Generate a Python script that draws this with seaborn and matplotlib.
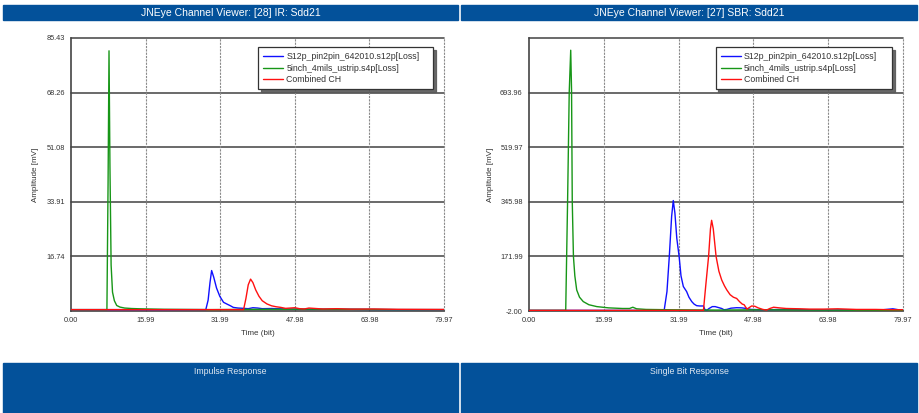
"""
Two-panel JNEye channel viewer: impulse response (IR) and single bit
response (SBR) for the two channel pieces and the combined channel.
Writes out.png (920x413).
"""

import matplotlib

matplotlib.use("Agg")
import matplotlib.pyplot as plt
import seaborn as sns
from matplotlib.patches import Rectangle

# -----------------------------------------------------------------------------
# Data
# -----------------------------------------------------------------------------
SERIES_NAMES = [
    "S12p_pin2pin_642010.s12p[Loss]",
    "5inch_4mils_ustrip.s4p[Loss]",
    "Combined CH",
]
PANEL_TITLES = ["JNEye Channel Viewer: [28] IR: Sdd21", "JNEye Channel Viewer: [27] SBR: Sdd21"]
PANEL_FOOTERS = ["Impulse Response", "Single Bit Response"]

X_TICKS = [0.00, 15.99, 31.99, 47.98, 63.98, 79.97]
X_TICK_LABELS = ["0.00", "15.99", "31.99", "47.98", "63.98", "79.97"]

IR_Y_TICKS = [-0.43, 16.74, 33.91, 51.08, 68.26, 85.43]
IR_Y_TICK_LABELS = ["", "16.74", "33.91", "51.08", "68.26", "85.43"]
SBR_Y_TICKS = [-2.00, 171.99, 345.98, 519.97, 693.96, 867.95]
SBR_Y_TICK_LABELS = ["-2.00", "171.99", "345.98", "519.97", "693.96", ""]

# impulse response, mV
ir_blue_t = [0, 28.9, 29.4, 29.8, 30.15, 30.6, 31.2, 31.9, 32.7, 33.5, 34.2, 34.8,
             35.8, 37.0, 38.0, 39.0, 40.0, 41.0, 43.0, 46.0, 50.0, 60.0, 70.0, 79.97]
ir_blue_v = [0, 0, 3.0, 8.5, 12.3, 10.2, 6.8, 4.2, 2.3, 1.7, 1.2, 0.7,
             0.5, 0.4, 0.3, 0.6, 0.5, 0.3, 0.35, 0.2, 0.1, 0.1, 0.0, 0.0]

ir_green_t = [0, 7.7, 7.95, 8.15, 8.35, 8.6, 8.9, 9.3, 9.8, 10.5, 11.5, 13.0,
              15.0, 20.0, 30.0, 40.0, 50.0, 60.0, 70.0, 79.97]
ir_green_v = [0, 0, 40.0, 81.4, 45.0, 14.0, 5.5, 2.8, 1.3, 0.8, 0.5, 0.35,
              0.25, 0.1, 0.0, 0.1, 0.15, 0.1, 0.0, 0.0]

ir_red_t = [0, 37.0, 37.5, 38.0, 38.5, 39.0, 39.6, 40.3, 41.0, 42.0, 43.0, 44.0,
            45.0, 46.0, 47.0, 48.0, 49.0, 50.0, 51.0, 52.0, 54.0, 57.0, 60.0,
            65.0, 70.0, 79.97]
ir_red_v = [0, 0, 3.5, 7.8, 9.6, 8.5, 6.2, 4.2, 2.8, 1.8, 1.2, 0.9,
            0.7, 0.4, 0.5, 0.6, 0.3, 0.2, 0.5, 0.4, 0.2, 0.3, 0.15,
            0.2, 0.1, 0.05]

# single bit response, mV
sbr_blue_t = [0, 28.9, 29.5, 30.0, 30.5, 30.85, 31.2, 31.6, 32.1, 32.5, 33.0, 33.7,
              34.2, 34.8, 35.3, 35.85, 36.5, 37.3, 37.6, 38.0, 38.5, 39.2, 39.8,
              40.5, 41.2, 41.7, 42.3, 43.2, 44.4, 45.5, 46.5, 47.5, 50.0, 55.0,
              60.0, 65.0, 70.0, 75.0, 77.8, 79.0, 79.97]
sbr_blue_v = [0, 0, 60, 172, 300, 350, 310, 230, 172, 110, 76, 60,
              42, 28, 20, 15, 14, 14, 3, 0, 6, 12, 12,
              9, 6, 2, 3, 7, 8.5, 8, 6, 3, 2, 3,
              2, 1, 2, 1, 5, 2, 1]

sbr_green_t = [0, 7.85, 8.25, 8.6, 8.92, 9.1, 9.25, 9.5, 9.8, 10.2, 10.8, 11.6,
               12.8, 14.5, 17.0, 20.0, 21.5, 22.2, 23.0, 25.0, 30.0, 40.0, 50.0,
               60.0, 70.0, 79.97]
sbr_green_v = [0, 0, 347, 694, 829, 700, 347, 172, 110, 65, 42, 28,
               18, 12, 8, 6, 6, 10, 5, 3, 2, 1, 2,
               1, 0.5, 0]

sbr_red_t = [0, 37.3, 37.8, 38.4, 38.8, 39.05, 39.4, 40.0, 40.6, 41.2, 41.8, 42.3,
             43.0, 43.7, 44.4, 45.0, 45.6, 46.0, 46.6, 47.0, 47.6, 48.3, 49.0,
             50.0, 50.8, 51.5, 52.3, 53.5, 55.0, 58.0, 60.0, 63.0, 66.0, 70.0,
             74.0, 78.0, 79.97]
sbr_red_v = [0, 0, 80, 172, 260, 287, 260, 172, 125, 97, 78, 65,
             50, 42, 38, 28, 20, 18, 4, 8, 14, 13, 8,
             3, 1, 6, 10, 8, 6, 5, 4, 4, 5, 3,
             3, 2, 2]

# -----------------------------------------------------------------------------
# Style
# -----------------------------------------------------------------------------
W, H = 920, 413
BAR = "#03519a"
LINE_COLORS = ["#1010ff", "#179617", "#ff1010"]
TEXT = "#333333"

sns.set_style("white")
plt.rcParams["font.family"] = ["Liberation Sans", "DejaVu Sans"]


def fx(px):
    return px / W


def fy(py):
    return 1 - py / H


def style_axes(ax, yticks, ylabels, ylabel_x, legend_x0):
    ax.set_xlim(X_TICKS[0], X_TICKS[-1])
    ax.set_ylim(yticks[0], yticks[-1])
    ax.set_xticks(X_TICKS, X_TICK_LABELS)
    ax.set_yticks(yticks, ylabels)
    ax.tick_params(direction="out", length=3, width=0.8, color="#444444",
                   labelsize=5.3, labelcolor=TEXT, pad=1.5)
    for y in yticks[1:]:
        ax.axhline(y, color="#505050", lw=1.2, zorder=1, clip_on=False)
    for x in X_TICKS[1:]:
        ax.axvline(x, color="#8a8a8a", lw=0.8, ls=(0, (2, 1)), zorder=1, clip_on=False)
    for side in ("top", "right"):
        ax.spines[side].set_visible(False)
    for side in ("left", "bottom"):
        ax.spines[side].set_color("#444444")
        ax.spines[side].set_linewidth(1.2)
    ax.set_xlabel("Time (bit)", fontsize=5.8, color=TEXT)
    ax.xaxis.label.set_va("center")
    ax.xaxis.set_label_coords(0.5, -0.084)
    ax.set_ylabel("Amplitude [mV]", fontsize=5.8, color=TEXT)
    ax.yaxis.label.set_va("center")
    ax.yaxis.set_label_coords(ylabel_x, 0.5)
    # legend box stretched to the width seen in the viewer
    leg = ax.legend(loc="upper left", bbox_to_anchor=(legend_x0, 0.809, 0.9705 - legend_x0, 0.159),
                    mode="expand", fontsize=6.3, frameon=True, fancybox=False,
                    shadow={"color": "0.35", "alpha": 0.9},
                    handlelength=2.3, handletextpad=0.35, labelspacing=0.3,
                    borderpad=0.6, borderaxespad=0)
    leg.get_frame().set_edgecolor("#333333")
    leg.get_frame().set_linewidth(0.9)
    for t in leg.get_texts():
        t.set_color(TEXT)


fig = plt.figure(figsize=(W / 100, H / 100), dpi=100, facecolor="white")

# header and footer bars
for x0, x1, title, footer in [(3, 458, PANEL_TITLES[0], PANEL_FOOTERS[0]),
                              (461, 917, PANEL_TITLES[1], PANEL_FOOTERS[1])]:
    fig.patches.append(Rectangle((fx(x0), fy(20)), fx(x1 - x0), 15 / H,
                                 transform=fig.transFigure, color=BAR, zorder=0))
    fig.patches.append(Rectangle((fx(x0), 0), fx(x1 - x0), 50 / H,
                                 transform=fig.transFigure, color=BAR, zorder=0))
    fig.text(fx((x0 + x1) / 2), fy(12.8), title, ha="center", va="center",
             fontsize=7.5, color="white")
    fig.text(fx((x0 + x1) / 2), fy(371), footer, ha="center", va="center",
             fontsize=6.3, color="#dde6f0")

ax_ir = fig.add_axes([fx(71), fy(311), 373 / W, 273 / H])
ax_sbr = fig.add_axes([fx(529), fy(311), 374 / W, 273 / H])

for ax, curves in [
    (ax_ir, [(ir_blue_t, ir_blue_v), (ir_green_t, ir_green_v), (ir_red_t, ir_red_v)]),
    (ax_sbr, [(sbr_blue_t, sbr_blue_v), (sbr_green_t, sbr_green_v), (sbr_red_t, sbr_red_v)]),
]:
    for (t, v), name, color in zip(curves, SERIES_NAMES, LINE_COLORS):
        sns.lineplot(x=t, y=v, ax=ax, color=color, lw=1.0, label=name, zorder=3)

style_axes(ax_ir, IR_Y_TICKS, IR_Y_TICK_LABELS, -0.0965, 0.501)
style_axes(ax_sbr, SBR_Y_TICKS, SBR_Y_TICK_LABELS, -0.104, 0.499)

fig.savefig("out.png", dpi=100, facecolor="white")
